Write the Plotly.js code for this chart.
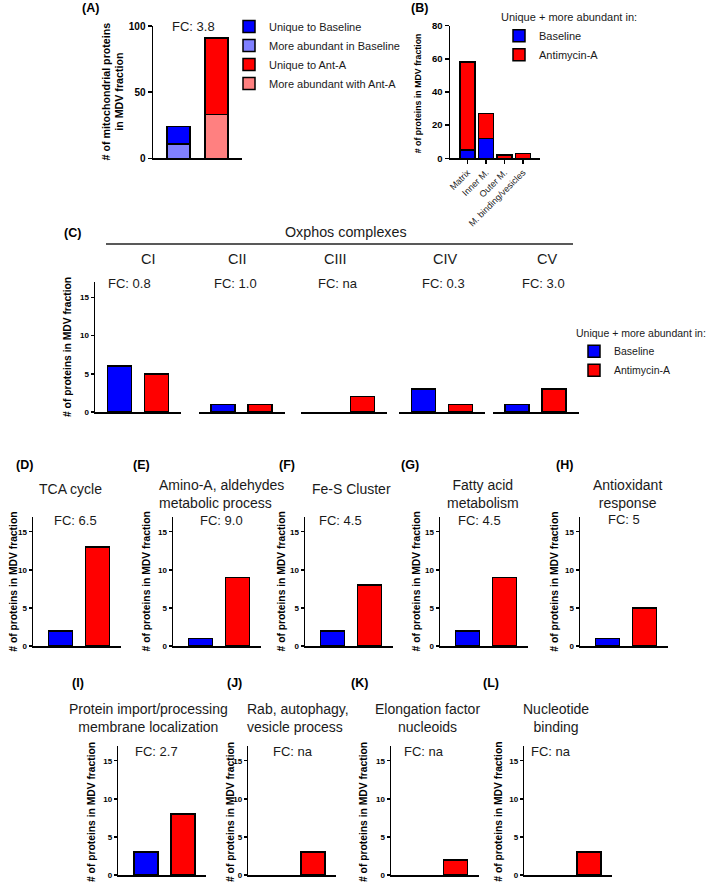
<!DOCTYPE html>
<html><head><meta charset="utf-8">
<script src="https://cdn.plot.ly/plotly-3.0.1.min.js"></script>
<style>html,body{margin:0;padding:0;background:#fff}#chart{width:709px;height:884px}</style>
</head><body><div id="chart"></div>
<script>
// ---------------- DATA ----------------
// (A) mitochondrial proteins in MDV fraction (index 0 = Baseline, 1 = Ant-A)
const aCats = ['Baseline', 'Ant-A'];
const aMoreAbundant = [11, 33];
const aUnique = [13, 58];
const aFC = 'FC: 3.8';

// (B) sub-mitochondrial localisation
const bCats = ['Matrix', 'Inner M.', 'Outer M.', 'M. binding/vesicles'];
const bBaseline = [5, 12, 0, 0];
const bAntimycin = [53, 15, 2, 3];

// (C) Oxphos complexes
const cComplexes = ['CI', 'CII', 'CIII', 'CIV', 'CV'];
const cBaseline = [6, 1, 0, 3, 1];
const cAntimycin = [5, 1, 2, 1, 3];
const cFC = ['FC: 0.8', 'FC: 1.0', 'FC: na', 'FC: 0.3', 'FC: 3.0'];

// (D)-(L) pathways
const pLetters = ['(D)', '(E)', '(F)', '(G)', '(H)', '(I)', '(J)', '(K)', '(L)'];
const pTitles = ['TCA cycle', 'Amino-A, aldehydes<br>metabolic process', 'Fe-S Cluster',
  'Fatty acid<br>metabolism', 'Antioxidant<br>response',
  'Protein import/processing<br>membrane localization', 'Rab, autophagy,<br>vesicle process',
  'Elongation factor<br>nucleoids', 'Nucleotide<br>binding'];
const pBaseline = [2, 1, 2, 2, 1, 3, 0, 0, 0];
const pAntimycin = [13, 9, 8, 9, 5, 8, 3, 2, 3];
const pFC = ['FC: 6.5', 'FC: 9.0', 'FC: 4.5', 'FC: 4.5', 'FC: 5', 'FC: 2.7', 'FC: na', 'FC: na', 'FC: na'];

const groupCats = ['Baseline', 'Antimycin-A'];
const seriesNames = ['Baseline', 'Antimycin-A'];
const yTitle = '# of proteins in MDV fraction';
const legendTitle = 'Unique + more abundant in:';

// ---------------- STYLE / LAYOUT ----------------
const W = 709, H = 884;
const X = v => v / W, Y = v => 1 - v / H;
const FONT = 'Arial, "Liberation Sans", Helvetica, sans-serif';
const BLUE = '#0000ff', RED = '#ff0000', LBLUE = '#8080ff', LRED = '#ff8080';
const outline = vals => ({color: '#000', width: vals.map(v => (v > 0 ? 1.5 : 0))});

function yAx(top, bottom, range, dtick, anchor, fs, tl) {
  return {domain: [Y(bottom), Y(top)], range: range, dtick: dtick, tick0: 0, anchor: anchor,
    showline: true, linecolor: '#000', linewidth: 1.5, ticks: 'outside', ticklen: tl || 4, tickwidth: 1.5,
    tickcolor: '#000', showgrid: false, zeroline: false, fixedrange: true,
    tickfont: {family: FONT, size: fs, color: '#000', weight: 'bold'}};
}
function xAx(l, r, range, anchor, cats) {
  return {domain: [X(l), X(r)], range: range, anchor: anchor, type: 'category',
    categoryorder: 'array', categoryarray: cats, showline: true, linecolor: '#000', linewidth: 1.5,
    ticks: '', showticklabels: false, showgrid: false, zeroline: false, fixedrange: true};
}

const traces = [];
const layout = {
  width: W, height: H, margin: {l: 0, r: 0, t: 0, b: 0}, paper_bgcolor: '#fff', plot_bgcolor: 'rgba(0,0,0,0)',
  barmode: 'stack', font: {family: FONT, color: '#1a1a1a'}, showlegend: true,
  annotations: [], shapes: []
};
function ann(text, x, y, size, opts) {
  layout.annotations.push(Object.assign({text: text, xref: 'paper', yref: 'paper', x: X(x), y: Y(y),
    xanchor: 'center', yanchor: 'middle', showarrow: false,
    font: {family: FONT, size: size, color: '#1a1a1a'}}, opts || {}));
}
function bold(text, x, y, size, opts) {
  ann(text, x, y, size, Object.assign({font: {family: FONT, size: size, color: '#000', weight: 'bold'}}, opts || {}));
}

// ---- Panel A ----
layout.xaxis = xAx(153, 242, [-0.67, 1.67], 'y', aCats);
layout.yaxis = yAx(26, 158.3, [0, 100], 50, 'x', 10);
const aSeries = [
  {name: 'More abundant in Baseline', i: 0, y: aMoreAbundant[0], color: LBLUE, rank: 2},
  {name: 'Unique to Baseline', i: 0, y: aUnique[0], color: BLUE, rank: 1},
  {name: 'More abundant with Ant-A', i: 1, y: aMoreAbundant[1], color: LRED, rank: 4},
  {name: 'Unique to Ant-A', i: 1, y: aUnique[1], color: RED, rank: 3}
];
aSeries.forEach(s => traces.push({type: 'bar', name: s.name, x: [aCats[s.i]], y: [s.y], width: 0.6,
  xaxis: 'x', yaxis: 'y', legend: 'legend', legendrank: s.rank,
  marker: {color: s.color, line: {color: '#000', width: 1.5}}, hoverinfo: 'skip'}));
layout.legend = {x: X(229), y: Y(12), xanchor: 'left', yanchor: 'top', traceorder: 'normal',
  bgcolor: 'rgba(0,0,0,0)', font: {family: FONT, size: 11, color: '#1a1a1a'}, itemclick: false};
bold('(A)', 90, 8, 12.5);
ann(aFC, 193, 26, 13);
bold('# of mitochondrial proteins<br>in MDV fraction', 112.5, 92, 10.7, {textangle: -90});

// ---- Panel B ----
layout.xaxis2 = Object.assign(xAx(450, 540, [-0.95, 3.92], 'y2', bCats),
  {ticks: 'outside', ticklen: 4, tickwidth: 1.2, tickcolor: '#000', showticklabels: true, tickangle: -45,
   tickfont: {family: FONT, size: 9, color: '#1a1a1a'}});
layout.yaxis2 = yAx(25.7, 158.3, [0, 80], 20, 'x2', 9.5);
[[bBaseline, BLUE, 0], [bAntimycin, RED, 1]].forEach(([vals, col, i]) => traces.push({
  type: 'bar', name: seriesNames[i], x: bCats, y: vals, width: 0.81, xaxis: 'x2', yaxis: 'y2',
  legend: 'legend2', marker: {color: col, line: outline(vals)}, hoverinfo: 'skip'}));
layout.legend2 = {x: X(499), y: Y(7), xanchor: 'left', yanchor: 'top', traceorder: 'normal',
  bgcolor: 'rgba(0,0,0,0)', font: {family: FONT, size: 11, color: '#1a1a1a'}, itemclick: false,
  title: {text: legendTitle, font: {family: FONT, size: 11, color: '#1a1a1a'}}};
bold('(B)', 419, 8, 12.5);
bold(yTitle, 418.3, 93, 8.8, {textangle: -90});

// ---- Panel C ----
const cLeft = [95, 198.5, 301, 399, 492.5];
const cWidth = 86;
layout.yaxis3 = yAx(282, 412, [0, 17], 5, 'x3', 8, 3);
cComplexes.forEach((c, i) => {
  const xa = 'x' + (3 + i);
  layout['xaxis' + (3 + i)] = xAx(cLeft[i], cLeft[i] + cWidth, [-0.675, 1.675], 'y3', groupCats);
  traces.push({type: 'bar', name: seriesNames[0], x: [groupCats[0]], y: [cBaseline[i]], width: 0.656,
    xaxis: xa, yaxis: 'y3', legend: 'legend3', legendgroup: 'cb', showlegend: i === 0,
    marker: {color: BLUE, line: outline([cBaseline[i]])}, hoverinfo: 'skip'});
  traces.push({type: 'bar', name: seriesNames[1], x: [groupCats[1]], y: [cAntimycin[i]], width: 0.656,
    xaxis: xa, yaxis: 'y3', legend: 'legend3', legendgroup: 'ca', showlegend: i === 0,
    marker: {color: RED, line: outline([cAntimycin[i]])}, hoverinfo: 'skip'});
});
const cLabelX = [148.6, 238, 335, 445, 547];
const cFCX = [129, 235.6, 337.6, 443, 543.7];
cComplexes.forEach((c, i) => { ann(c, cLabelX[i], 259, 14.5); ann(cFC[i], cFCX[i], 283, 13); });
ann('Oxphos complexes', 346, 232, 14.3);
layout.shapes.push({type: 'line', xref: 'paper', yref: 'paper', x0: X(106), x1: X(573), y0: Y(244), y1: Y(244),
  line: {color: '#222', width: 1.3}});
layout.legend3 = {x: X(574), y: Y(323), xanchor: 'left', yanchor: 'top', traceorder: 'normal',
  bgcolor: 'rgba(0,0,0,0)', font: {family: FONT, size: 10.5, color: '#1a1a1a'}, itemclick: false,
  title: {text: legendTitle, font: {family: FONT, size: 10.5, color: '#1a1a1a'}}};
bold('(C)', 72.5, 233, 12.5);
bold(yTitle, 68, 347, 10.3, {textangle: -90});

// ---- Panels D-L ----
const pAxisX = [33, 173, 305, 440, 580, 118.3, 248.3, 391, 524.3];
const pRow = [0, 0, 0, 0, 0, 1, 1, 1, 1];
const rowTop = [516.5, 745.5], rowBottom = [646, 875], rowYTitle = [581.7, 812];
const pLetterPos = [[24.5, 465], [141.3, 465], [287, 465], [410.3, 465], [564, 465],
  [77.5, 683], [234.5, 683], [359.5, 683], [491, 683]];
const pTitlePos = [[70.7, 489, 'center'], [157.3, 493.7, 'left'], [351.3, 489, 'center'], [483, 493.7, 'center'],
  [627.5, 493.7, 'center'], [148.3, 718.3, 'center'], [245, 718.3, 'left'], [427.3, 718.3, 'center'],
  [556, 718.3, 'center']];
const pFCPos = [[75, 520.7], [221.7, 520.7], [340, 520.7], [479.7, 520.7], [623.8, 519.5],
  [156.7, 751], [292.8, 751], [424, 751], [551.3, 751]];
const pYTitleX = [14, 146.7, 281.7, 416.7, 555, 91, 230, 363, 497.7];
const pWidth = 88;
pLetters.forEach((L, i) => {
  const xi = 8 + i, yi = 4 + i, r = pRow[i];
  const vals = [pBaseline[i], pAntimycin[i]];
  layout['xaxis' + xi] = xAx(pAxisX[i], pAxisX[i] + pWidth, [-0.743, 1.635], 'y' + yi, groupCats);
  layout['yaxis' + yi] = yAx(rowTop[r], rowBottom[r], [0, 17], 5, 'x' + xi, 8, 3);
  traces.push({type: 'bar', x: groupCats, y: vals, width: 0.65,
    xaxis: 'x' + xi, yaxis: 'y' + yi, showlegend: false, name: L,
    marker: {color: [BLUE, RED], line: outline(vals)}, hoverinfo: 'skip'});
  bold(L, pLetterPos[i][0], pLetterPos[i][1], 12.5);
  const tp = pTitlePos[i];
  ann(pTitles[i], tp[0], tp[1], 14, {xanchor: tp[2], align: tp[2]});
  ann(pFC[i], pFCPos[i][0], pFCPos[i][1], 13);
  bold(yTitle, pYTitleX[i], rowYTitle[r], 10.3, {textangle: -90});
});

Plotly.newPlot('chart', traces, layout, {displayModeBar: false, staticPlot: true});
</script>
</body></html>
